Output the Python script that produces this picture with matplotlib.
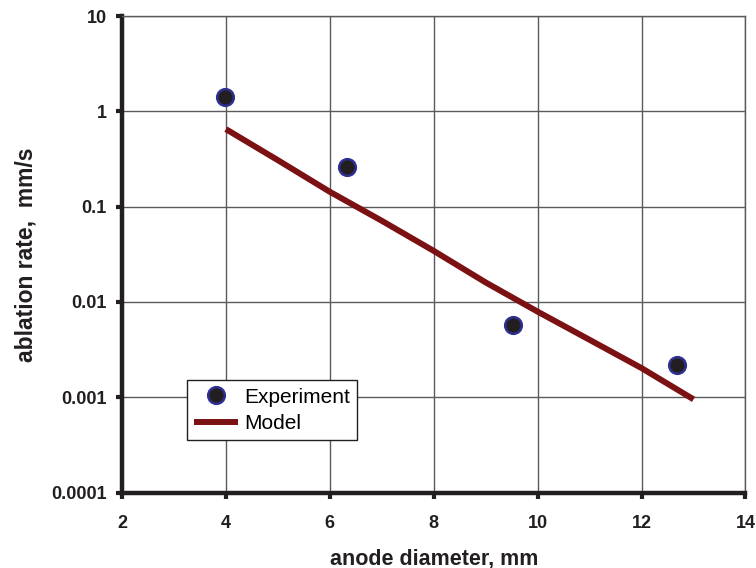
import numpy as np
import matplotlib
matplotlib.use("Agg")
import matplotlib.pyplot as plt
from matplotlib.ticker import FixedLocator, FixedFormatter, NullLocator

plt.rcParams['font.family'] = ['Liberation Sans', 'DejaVu Sans']

# experiment
exp_d = [3.98, 6.33, 9.52, 12.69]
exp_rate = [1.40, 0.26, 0.0057, 0.00217]

# model
mod_d = [4, 5, 6, 7, 8, 9, 10, 11, 12, 13]
mod_rate = [0.65, 0.307, 0.143, 0.071, 0.0343, 0.016, 0.0079, 0.0040, 0.00202, 0.00095]

yticks = [0.0001, 0.001, 0.01, 0.1, 1, 10]
ytick_labels = ["0.0001", "0.001", "0.01", "0.1", "1", "10"]
xticks = [2, 4, 6, 8, 10, 12, 14]

fig = plt.figure(figsize=(7.56, 5.68), dpi=100)
ax = fig.add_axes([0.1614, 0.1329, 0.8247, 0.8389])

ax.set_yscale("log")
ax.set_xlim(2, 14)
ax.set_ylim(1e-4, 10)

ax.plot(mod_d, mod_rate, color="#7b1113", linewidth=4.3, label="Model", zorder=3,
        solid_capstyle="butt")
ax.plot(exp_d, exp_rate, linestyle="none", marker="o", markersize=12,
        markerfacecolor="#231f20", markeredgecolor="#2e3192", markeredgewidth=1.8,
        label="Experiment", zorder=4)

ax.yaxis.set_major_locator(FixedLocator(yticks))
ax.yaxis.set_major_formatter(FixedFormatter(ytick_labels))
ax.yaxis.set_minor_locator(NullLocator())
ax.set_xticks(xticks)

ax.grid(True, color="#5a5a5a", linewidth=1.0, zorder=1)
ax.set_axisbelow(True)

for s in ["left", "bottom"]:
    ax.spines[s].set_linewidth(3.2)
    ax.spines[s].set_color("#231f20")
for s in ["top", "right"]:
    ax.spines[s].set_linewidth(1.0)
    ax.spines[s].set_color("#5a5a5a")

ax.tick_params(axis="both", direction="out", length=4, width=3, color="#231f20",
               labelsize=13, top=False, right=False)
ax.tick_params(axis="x", pad=12)
ax.tick_params(axis="y", pad=7)
for lab in ax.get_xticklabels() + ax.get_yticklabels():
    lab.set_fontweight("bold")
    lab.set_color("#231f20")

ax.set_xlabel("anode diameter, mm", fontsize=15.5, fontweight="bold", color="#231f20", labelpad=12)
ax.set_ylabel("ablation rate,  mm/s", fontsize=16.5, fontweight="bold", color="#231f20", labelpad=10)

handles, labels = ax.get_legend_handles_labels()
leg = ax.legend(handles[::-1], labels[::-1], loc="lower left", bbox_to_anchor=(0.104, 0.110),
                borderaxespad=0, fontsize=15, fancybox=False, framealpha=1, edgecolor="#231f20",
                handlelength=2.1, handletextpad=0.3, borderpad=0.35, labelspacing=0.35)
leg.get_frame().set_linewidth(1.0)

fig.savefig("out.png", dpi=100)
